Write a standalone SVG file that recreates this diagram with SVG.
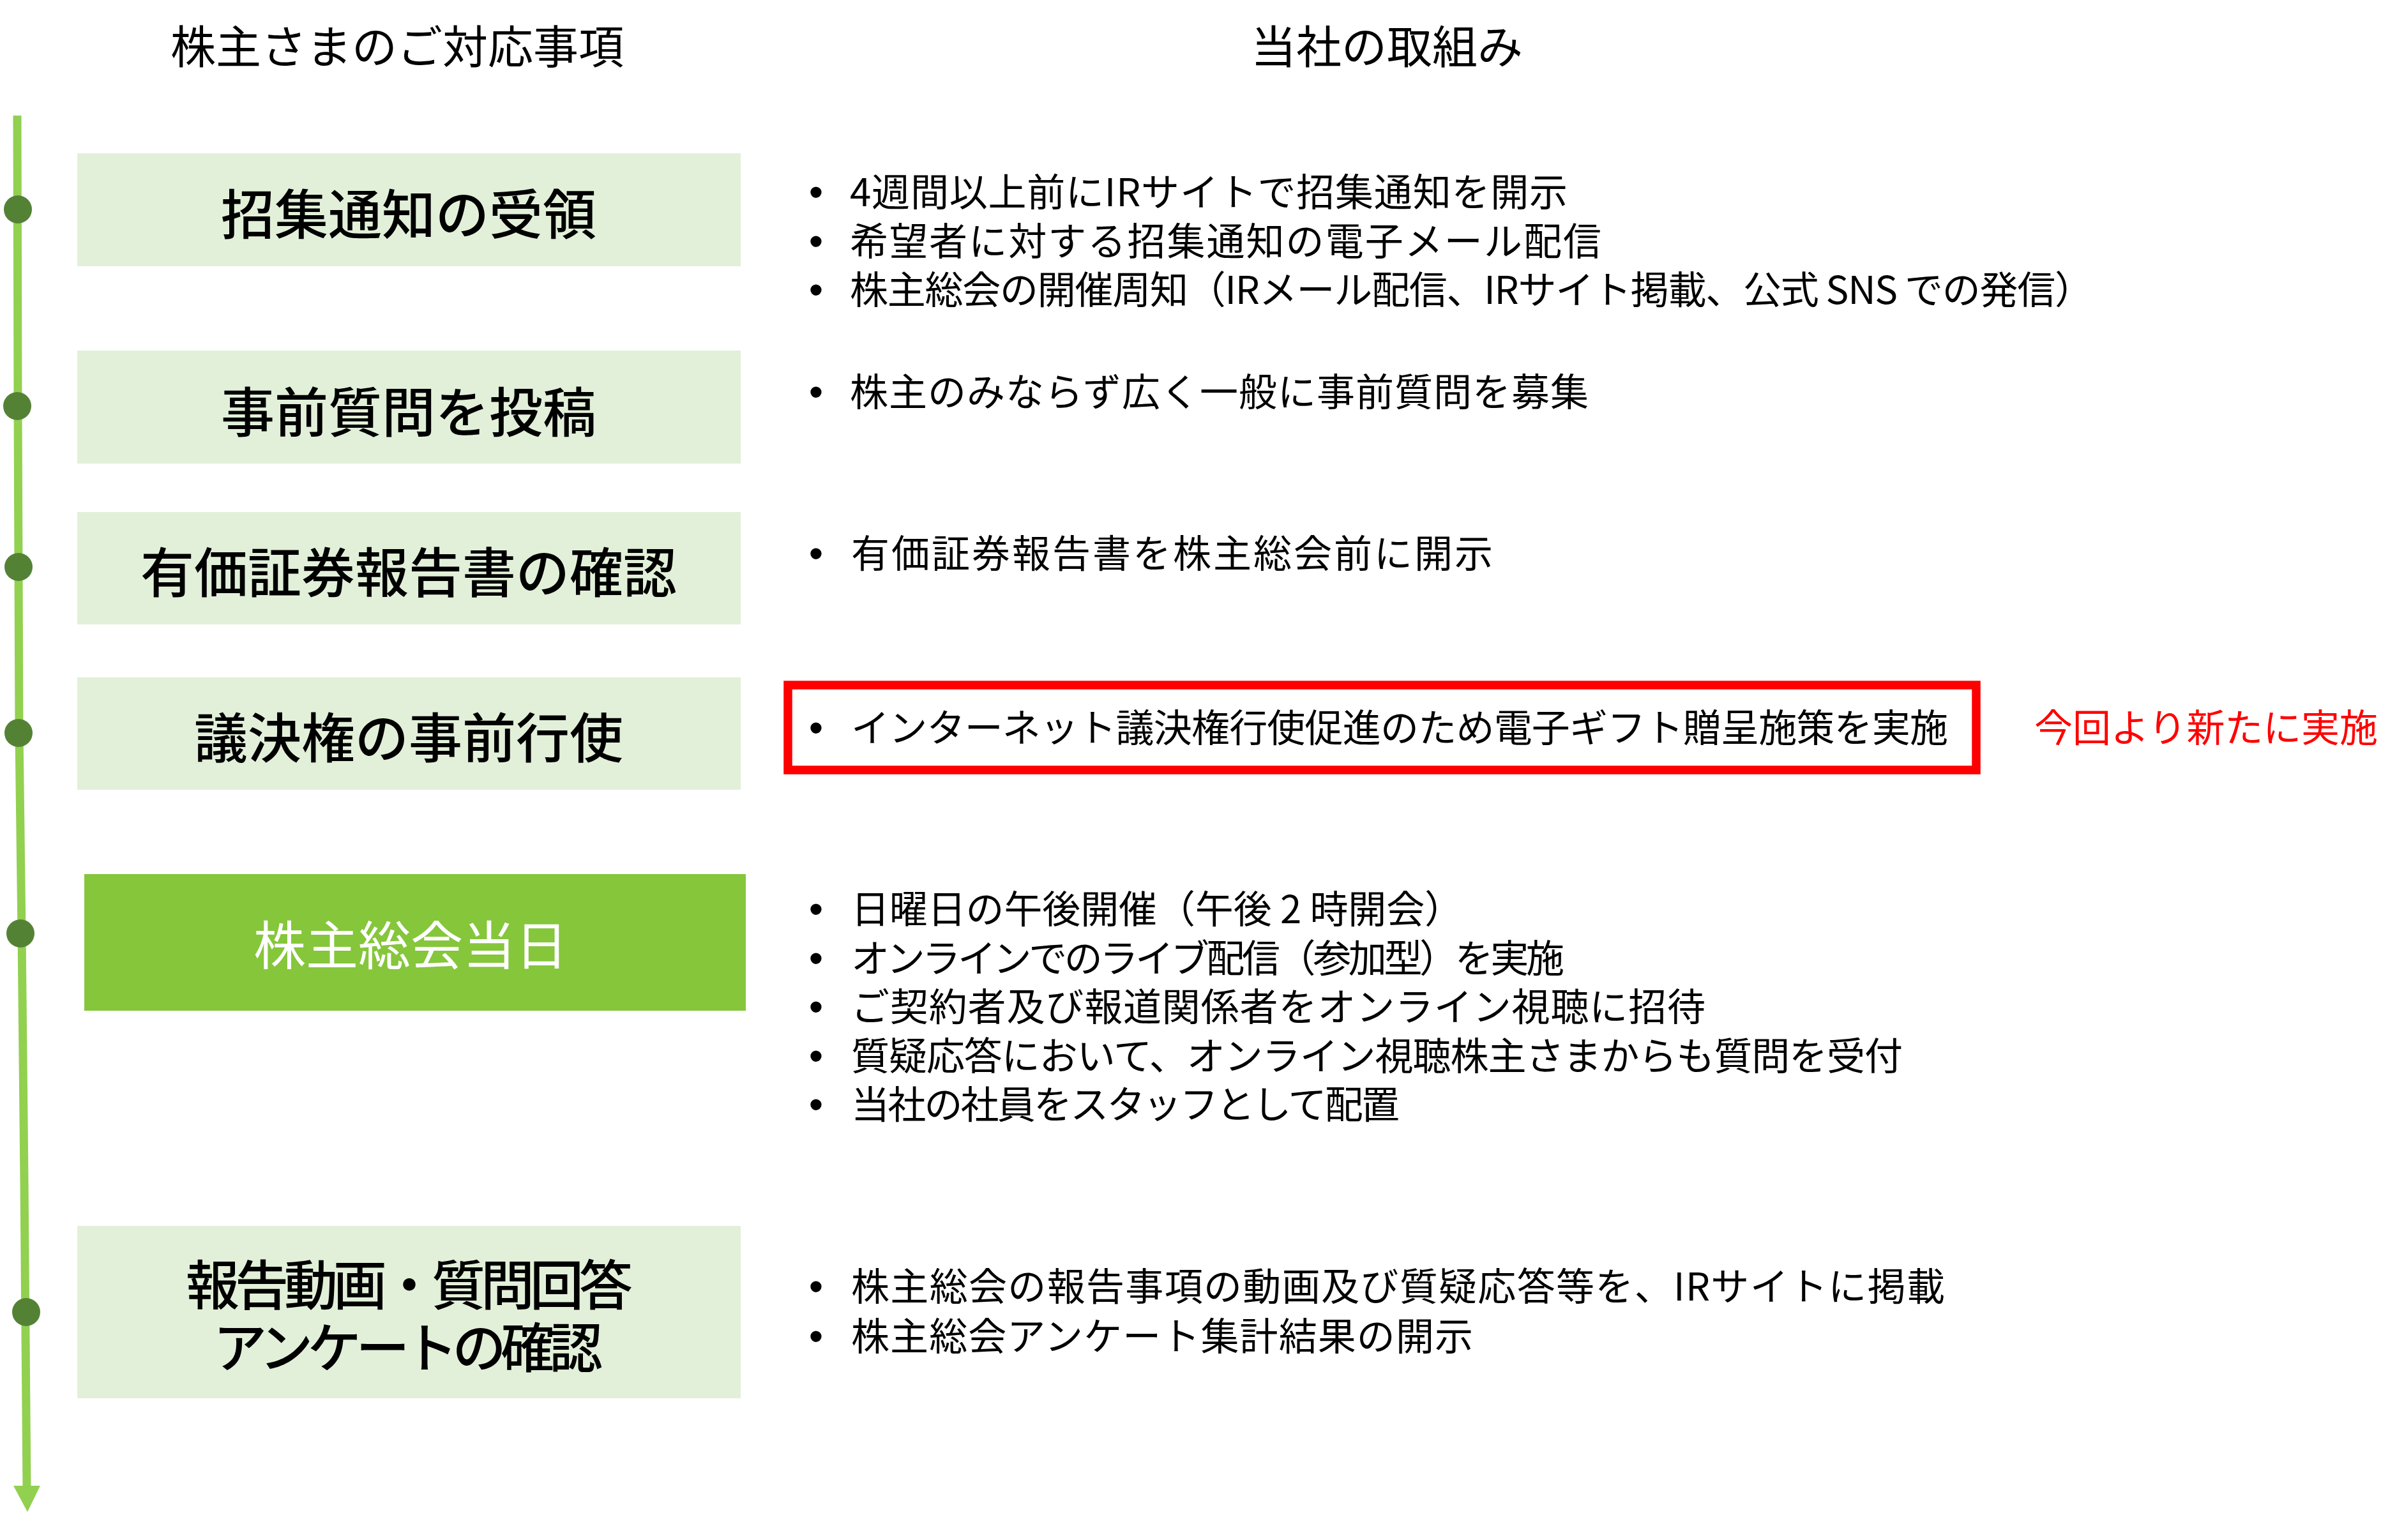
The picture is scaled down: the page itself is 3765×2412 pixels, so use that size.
<svg xmlns="http://www.w3.org/2000/svg" width="3765" height="2412" viewBox="0 0 3765 2412">
<style>
.hdr{font-family:"Noto Sans CJK JP",sans-serif;font-size:71px;fill:#000;text-anchor:middle}
.ttl{font-family:"Noto Sans CJK JP",sans-serif;font-size:84px;font-weight:500;fill:#000;text-anchor:middle}
.ttlw{font-family:"Noto Sans CJK JP",sans-serif;font-size:82px;fill:#fff;text-anchor:middle}
.txt{font-family:"Noto Sans CJK JP",sans-serif;font-size:60px;fill:#000}
.red{font-family:"Noto Sans CJK JP",sans-serif;font-size:60px;fill:#FF0000}
.bul{font-family:"Liberation Sans",sans-serif;font-size:64px;fill:#000;text-anchor:middle}
.box{fill:#E2F0D9}
.dot{fill:#548235}
</style>
<rect width="3765" height="2412" fill="#fff"/>
<text class="hdr" x="622" y="99">株主さまのご対応事項</text>
<text class="hdr" x="2172" y="99">当社の取組み</text>
<g id="connectors">
<polyline points="27,181 28,636 30,1148 34,1462 38,1850 42,2332" fill="none" stroke="#92D050" stroke-width="13"/>
<polygon points="21,2327 63,2327 43,2368" fill="#92D050"/>
</g>
<g id="timeline-dots">
<circle class="dot" cx="28" cy="328" r="22"/>
<circle class="dot" cx="27" cy="636" r="22"/>
<circle class="dot" cx="29" cy="888" r="22"/>
<circle class="dot" cx="29" cy="1148" r="22"/>
<circle class="dot" cx="32" cy="1462" r="22"/>
<circle class="dot" cx="41" cy="2055" r="22"/>
</g>
<g id="node1">
<rect class="box" x="121" y="240" width="1039" height="177"/>
<text class="ttl" x="640" y="367">招集通知の受領</text>
</g>
<g id="node2">
<rect class="box" x="121" y="549" width="1039" height="177"/>
<text class="ttl" x="640" y="677">事前質問を投稿</text>
</g>
<g id="node3">
<rect class="box" x="121" y="802" width="1039" height="176"/>
<text class="ttl" x="640" y="928">有価証券報告書の確認</text>
</g>
<g id="node4">
<rect class="box" x="121" y="1061" width="1039" height="176"/>
<text class="ttl" x="640" y="1187">議決権の事前行使</text>
</g>
<g id="node5">
<rect x="132" y="1369" width="1036" height="214" fill="#85C63B"/>
<text class="ttlw" x="643" y="1511">株主総会当日</text>
</g>
<g id="node6">
<rect class="box" x="121" y="1920" width="1039" height="270"/>
<text class="ttl"><tspan x="641" y="2044" textLength="700">報告動画・質問回答</tspan><tspan x="639" y="2142" textLength="610">アンケートの確認</tspan></text>
</g>
<g id="items1">
<text class="bul"><tspan x="1278" y="323">•</tspan><tspan x="1278" y="400">•</tspan><tspan x="1278" y="476">•</tspan></text>
<text class="txt"><tspan x="1331" y="323" textLength="1124">4週間以上前にIRサイトで招集通知を開示</tspan><tspan x="1331" y="400" textLength="1177">希望者に対する招集通知の電子メール配信</tspan><tspan x="1331" y="476" textLength="1947">株主総会の開催周知（IRメール配信、IRサイト掲載、公式 SNS での発信）</tspan></text>
</g>
<g id="items2">
<text class="bul" x="1278" y="636">•</text>
<text class="txt" x="1331" y="636" textLength="1157">株主のみならず広く一般に事前質問を募集</text>
</g>
<g id="items3">
<text class="bul" x="1278" y="889">•</text>
<text class="txt" x="1333" y="889" textLength="1005">有価証券報告書を株主総会前に開示</text>
</g>
<g id="items4">
<rect x="1234" y="1073" width="1861" height="133" fill="none" stroke="#FF0000" stroke-width="13.5"/>
<text class="bul" x="1278" y="1162">•</text>
<text class="txt" x="1333" y="1162" textLength="1718">インターネット議決権行使促進のため電子ギフト贈呈施策を実施</text>
<text class="red" x="3186" y="1162" textLength="538">今回より新たに実施</text>
</g>
<g id="items5">
<text class="bul"><tspan x="1278" y="1446">•</tspan><tspan x="1278" y="1523">•</tspan><tspan x="1278" y="1599">•</tspan><tspan x="1278" y="1676">•</tspan><tspan x="1278" y="1752">•</tspan></text>
<text class="txt"><tspan x="1333" y="1446" textLength="958">日曜日の午後開催（午後 2 時開会）</tspan><tspan x="1333" y="1523" textLength="1117">オンラインでのライブ配信（参加型）を実施</tspan><tspan x="1333" y="1599" textLength="1338">ご契約者及び報道関係者をオンライン視聴に招待</tspan><tspan x="1333" y="1676" textLength="1647">質疑応答において、オンライン視聴株主さまからも質問を受付</tspan><tspan x="1333" y="1752" textLength="859">当社の社員をスタッフとして配置</tspan></text>
</g>
<g id="items6">
<text class="bul"><tspan x="1278" y="2037">•</tspan><tspan x="1278" y="2115">•</tspan></text>
<text class="txt"><tspan x="1333" y="2037" textLength="1713">株主総会の報告事項の動画及び質疑応答等を、IRサイトに掲載</tspan><tspan x="1333" y="2115" textLength="974">株主総会アンケート集計結果の開示</tspan></text>
</g>
</svg>
